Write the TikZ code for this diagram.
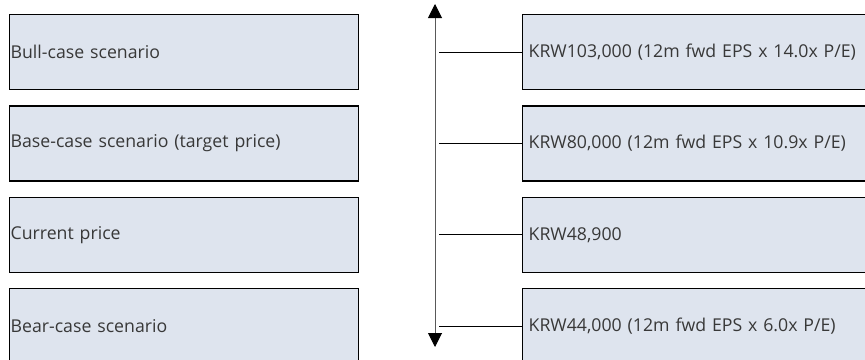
\documentclass[tikz,border=0pt]{standalone}
\usepackage{fontspec}
\setmainfont{Open Sans}
\usetikzlibrary{arrows.meta}
\definecolor{boxfill}{HTML}{DEE4EE}
\definecolor{txt}{HTML}{383838}
\definecolor{axisgray}{HTML}{595959}
\tikzset{
  leftbox/.style={draw=black, line width=1.3pt, fill=boxfill, minimum width=349pt, minimum height=75pt,
    text width=347pt, align=left, inner xsep=1pt, anchor=north west, text=txt, font=\fontsize{17.7}{20}\selectfont},
  rightbox/.style={leftbox, minimum width=360pt, text width=348pt, inner xsep=6pt},
  conn/.style={draw=black, line width=1pt},
  axis/.style={draw=axisgray, line width=1pt, {Triangle[width=14pt,length=14pt,color=black]}-{Triangle[width=14pt,length=14pt,color=black]}}
}
\begin{document}
\begin{tikzpicture}[x=1pt,y=1pt]
\clip (0,0) rectangle (865,-359);
\fill[white] (0,0) rectangle (865,-359);
\node[leftbox] (l1) at (9,-14) {Bull-case scenario};
\node[leftbox] (l2) at (9,-105.3) {Base-case scenario (target price)};
\node[leftbox] (l3) at (9,-196.7) {Current price};
\node[leftbox] (l4) at (9,-288) {Bear-case scenario};
\node[rightbox] (r1) at (522,-14) {KRW103,000 (12m fwd EPS x 14.0x P/E)};
\node[rightbox] (r2) at (522,-105.3) {KRW80,000 (12m fwd EPS x 10.9x P/E)};
\node[rightbox] (r3) at (522,-196.7) {KRW48,900};
\node[rightbox] (r4) at (522,-288) {KRW44,000 (12m fwd EPS x 6.0x P/E)};
\coordinate (atop) at (435,-4);
\coordinate (abot) at (435,-347);
\coordinate (ax) at (439,0);
\draw[axis] (abot) -- (atop);
\foreach \i in {1,...,4}{\draw[conn] (r\i.west) -- (r\i.west -| ax);}
\end{tikzpicture}
\end{document}
